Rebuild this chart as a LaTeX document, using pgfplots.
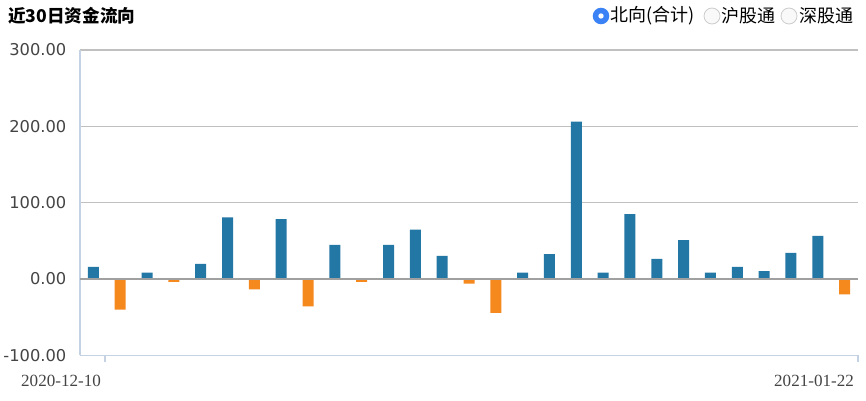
\documentclass[border=0pt]{standalone}
\usepackage{fontspec}
\setmainfont{Liberation Serif}
\newfontfamily\cjk{Noto Sans CJK SC}
\newfontfamily\tickfont{DejaVu Sans}
\usepackage{pgfplots}
\pgfplotsset{compat=1.18}
\definecolor{barblue}{RGB}{35,119,164}
\definecolor{barorange}{RGB}{245,137,30}
\definecolor{axisblue}{RGB}{196,210,228}
\definecolor{gridgray}{RGB}{192,192,192}
\definecolor{zerogray}{RGB}{160,160,160}
\definecolor{labelgray}{RGB}{68,68,68}
\definecolor{radioblue}{RGB}{59,130,246}
\begin{document}
\begin{tikzpicture}
\useasboundingbox (0,0) rectangle (649.5pt,300pt);
\begin{axis}[at={(60pt,33.5pt)}, anchor=south west, scale only axis,
  width=583.5pt, height=229pt,
  xmin=0.5, xmax=29.5, ymin=-100, ymax=300,
  axis x line*=bottom, axis y line*=left,
  axis line style={axisblue, line width=0.9pt, -},
  ytick={-100,0,100,200,300},
  yticklabels={-100.00,0.00,100.00,200.00,300.00},
  ymajorgrids, grid style={gridgray, line width=1.1pt},
  ytick style={draw=none},
  yticklabel style={font=\tickfont\fontsize{12.2}{12.2}\selectfont, text=labelgray, xshift=-1.5pt},
  xtick={1.43,29.5}, xticklabels={},
  xtick style={axisblue, line width=0.9pt},
  tick align=outside, major tick length=5.25pt,
  clip=false,
]
\addplot[ybar, bar width=8.25pt, bar shift=0pt, fill=barblue, draw=none]
  coordinates {(1,16) (3,8.2) (5,19.9) (6,80.7) (8,78.5) (10,44.7) (12,44.7) (13,64.6) (14,30.4) (17,8.2) (18,32.5) (19,206.2) (20,8.2) (21,85) (22,26.4) (23,50.8) (24,8.2) (25,16) (26,10.4) (27,34.3) (28,56.4)};
\addplot[ybar, bar width=8.25pt, bar shift=0pt, fill=barorange, draw=none]
  coordinates {(2,-40) (4,-3.9) (7,-13.5) (9,-35.7) (11,-3.9) (15,-6.1) (16,-44.3) (29,-20)};
\draw[zerogray, line width=1.5pt] (axis cs:0.5,0) -- (axis cs:29.5,0);
\end{axis}
\node[font=\fontsize{12.8}{12.8}\selectfont, text=labelgray, inner sep=0] at (45.75pt,14.5pt) {2020-12-10};
\node[font=\fontsize{12.8}{12.8}\selectfont, text=labelgray, inner sep=0] at (610.5pt,14.5pt) {2021-01-22};
\node[anchor=west, inner sep=0, font=\cjk\bfseries\fontsize{13.2}{13.2}\selectfont] at (6pt,288pt) {近30日资金流向};
\fill[radioblue] (450.75pt,288pt) circle (6.2pt);
\fill[white] (450.75pt,288pt) circle (2pt);
\node[anchor=west, inner sep=0, font=\cjk\fontsize{13.5}{13.5}\selectfont] at (457.5pt,288pt) {北向(合计)};
\draw[gray!40, fill=gray!5, line width=0.6pt] (534pt,288pt) circle (6pt);
\node[anchor=west, inner sep=0, font=\cjk\fontsize{13.5}{13.5}\selectfont] at (541pt,288pt) {沪股通};
\draw[gray!40, fill=gray!5, line width=0.6pt] (591.75pt,288pt) circle (6pt);
\node[anchor=west, inner sep=0, font=\cjk\fontsize{13.5}{13.5}\selectfont] at (599.5pt,288pt) {深股通};
\end{tikzpicture}
\end{document}
